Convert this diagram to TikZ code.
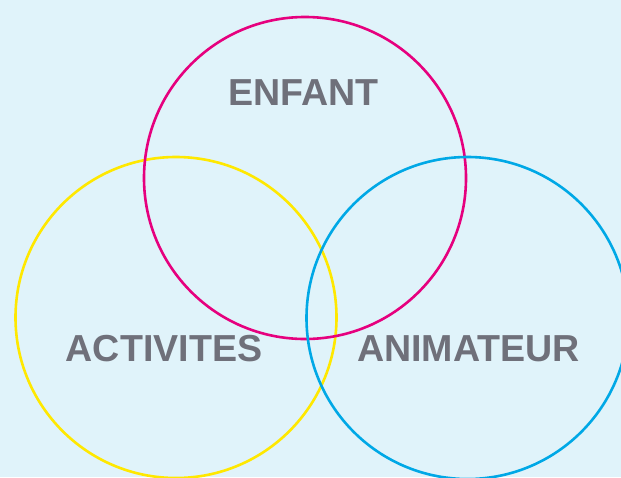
\documentclass[tikz,border=0pt]{standalone}
\usepackage{fontspec}
\setmainfont{Liberation Sans}
\definecolor{bgblue}{HTML}{E0F3FA}
\definecolor{ringmagenta}{HTML}{E6007E}
\definecolor{ringyellow}{HTML}{FFE800}
\definecolor{ringblue}{HTML}{00A8E6}
\definecolor{labelgray}{HTML}{6F707A}
\tikzset{
  ring/.style={line width=2.6pt},
  setlabel/.style={inner sep=0pt, text=labelgray, font=\fontsize{37.6}{40}\selectfont\bfseries}
}
\begin{document}
\begin{tikzpicture}[x=1pt,y=-1pt]
\fill[bgblue] (0,0) rectangle (621,477);
\useasboundingbox (0,0) rectangle (621,477);
\begin{scope}
\clip (0,0) rectangle (621,477);
\draw[ring, ringyellow] (176,317.5) circle[radius=160.5];
\draw[ring, ringmagenta] (305,178) circle[radius=161];
\draw[ring, ringblue] (467.5,318) circle[radius=161];
\end{scope}
\node[setlabel] (enfant) at (303.5,92.5) {ENFANT};
\node[setlabel] (activites) at (164,348.5) {ACTIVITES};
\node[setlabel] (animateur) at (468.5,349) {ANIMATEUR};
\end{tikzpicture}
\end{document}
